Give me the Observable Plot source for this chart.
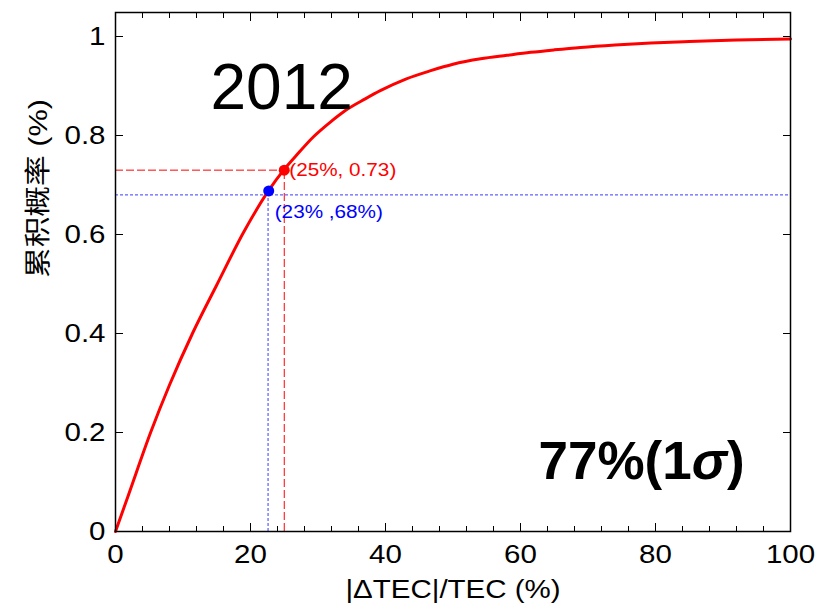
<!DOCTYPE html>
<html><head><meta charset="utf-8">
<script src="https://cdn.jsdelivr.net/npm/d3@7"></script>
<script src="https://cdn.jsdelivr.net/npm/@observablehq/plot@0.6"></script>
<style>body{margin:0;background:#fff}</style>
</head><body><div id="chart"></div>
<script>
// cumulative distribution of |ΔTEC|/TEC (2012)
const deltaTec = [0,2,5.2,8,11.4,15,19,22.6,24.9,27,29.3,32,34,37,39.3,43,46.7,50,54.1,58,61.5,65,68.9,74,79.3,85,92,100];
const cumProb  = [0,0.077,0.200,0.296,0.400,0.498,0.605,0.687,0.730,0.763,0.797,0.829,0.850,0.874,0.891,0.914,0.931,0.944,0.955,0.962,0.968,0.973,0.978,0.983,0.987,0.990,0.993,0.995];

const xMajorTicks = [0,20,40,60,80,100];
const xMinorTicks = [4,8,12,16,24,28,32,36,44,48,52,56,64,68,72,76,84,88,92,96];
const yMajorTicks = [0,0.2,0.4,0.6,0.8,1];
const yTickLabels = ["0","0.2","0.4","0.6","0.8","1"];

const xLabel = "|\u0394TEC|/TEC (%)";
const yLabel = "累积概率 (%)";
const yearLabel = "2012";
const sigmaLabel = "77%(1\u03c3)";

const pointX = [25, 22.7];
const pointY = [0.73, 0.688];
const pointLabel = ["(25%, 0.73)", "(23% ,68%)"];
const pointColor = ["red", "blue"];

const redGuideX = 25, redGuideY = 0.73;
const blueGuideX = 22.6, blueGuideY = 0.68;

const curve = deltaTec.map((x, i) => ({x, y: cumProb[i]}));
const points = pointX.map((x, i) => ({x, y: pointY[i], label: pointLabel[i], color: pointColor[i]}));

const FONT = "'Liberation Sans', Arial, Helvetica, 'Noto Sans CJK SC', sans-serif";

const plot = Plot.plot({
  width: 822, height: 606,
  marginLeft: 115, marginRight: 32, marginTop: 12, marginBottom: 75,
  style: {fontFamily: FONT, background: "#fff", color: "#000"},
  x: {domain: [0, 100]},
  y: {domain: [0, 519/495]},
  marks: [
    // guide lines
    Plot.ruleY([redGuideY], {x1: 0, x2: redGuideX, stroke: "red", strokeWidth: 1, strokeDasharray: "8,3"}),
    Plot.ruleX([redGuideX], {y1: 0, y2: redGuideY, stroke: "red", strokeWidth: 1, strokeDasharray: "8,3"}),
    Plot.ruleY([blueGuideY], {stroke: "#3a3aff", strokeWidth: 1, strokeDasharray: "3,2"}),
    Plot.ruleX([blueGuideX], {y1: 0, y2: blueGuideY, stroke: "#3a3aff", strokeWidth: 1, strokeDasharray: "3,2"}),
    // curve
    Plot.line(curve, {x: "x", y: "y", stroke: "red", strokeWidth: 3, curve: "monotone-x"}),
    // points
    Plot.dot(points, {x: "x", y: "y", r: 5.5, fill: "color", stroke: null}),
    Plot.text(points.slice(0,1), {x: "x", y: "y", text: "label", fill: "color", fontSize: 18.5, textAnchor: "start", dx: 5, dy: 0}),
    Plot.text(points.slice(1,2), {x: "x", y: "y", text: "label", fill: "color", fontSize: 18.5, textAnchor: "start", dx: 6, dy: 21}),
    // big annotations
    Plot.text([yearLabel], {frameAnchor: "top-left", dx: 95, dy: 96, lineAnchor: "bottom", textAnchor: "start", fontSize: 64}),
    Plot.text([sigmaLabel], {frameAnchor: "bottom-left", dx: 423, dy: -53, lineAnchor: "bottom", textAnchor: "start", fontSize: 53, fontWeight: "bold"}),
    // frame
    Plot.frame({stroke: "#000", strokeWidth: 1.5}),
    // inward ticks
    Plot.axisX({ticks: xMajorTicks, anchor: "bottom", tickSize: -8, fill: "none", label: null}),
    Plot.axisX({ticks: xMinorTicks, anchor: "bottom", tickSize: -5, fill: "none", label: null}),
    Plot.axisX({ticks: xMajorTicks, anchor: "top", tickSize: -8, fill: "none", label: null}),
    Plot.axisX({ticks: xMinorTicks, anchor: "top", tickSize: -5, fill: "none", label: null}),
    Plot.axisY({ticks: yMajorTicks, anchor: "left", tickSize: -8, fill: "none", label: null}),
    Plot.axisY({ticks: yMajorTicks, anchor: "right", tickSize: -8, fill: "none", label: null}),
    // tick labels
    Plot.axisX({ticks: xMajorTicks, anchor: "bottom", tickSize: 0, tickPadding: 14, fontSize: 25, label: null}),
    Plot.axisY({ticks: yMajorTicks, anchor: "left", tickSize: 0, tickPadding: 10, fontSize: 25, label: null,
                tickFormat: (d) => yTickLabels[yMajorTicks.indexOf(d)]}),
    // axis labels
    Plot.text([xLabel], {frameAnchor: "bottom", dy: 58, lineAnchor: "middle", fontSize: 25}),
    Plot.text([yLabel], {frameAnchor: "left", dx: -77, dy: 6, rotate: -90, lineAnchor: "middle", fontSize: 26})
  ]
});

document.getElementById("chart").appendChild(plot);

// widen fonts horizontally like the original
const svg = d3.select(plot);
function stretch(el, k) {
  const t = el.getAttribute("transform") || "";
  el.setAttribute("transform", t + ` scale(${k},1)`);
}
svg.selectAll("g[aria-label='x-axis tick label'] text, g[aria-label='y-axis tick label'] text").each(function() { stretch(this, 1.18); });
svg.selectAll("text").each(function() {
  const s = this.textContent;
  if (s === xLabel || s === yLabel) stretch(this, 1.18);
  if (pointLabel.includes(s)) stretch(this, 1.12);
  if (s === sigmaLabel) {
    const el = d3.select(this);
    el.text(null);
    el.append("tspan").text("77%(1");
    el.append("tspan").attr("font-style", "italic").text("\u03c3");
    el.append("tspan").text(")");
  }
});
</script>
</body></html>
